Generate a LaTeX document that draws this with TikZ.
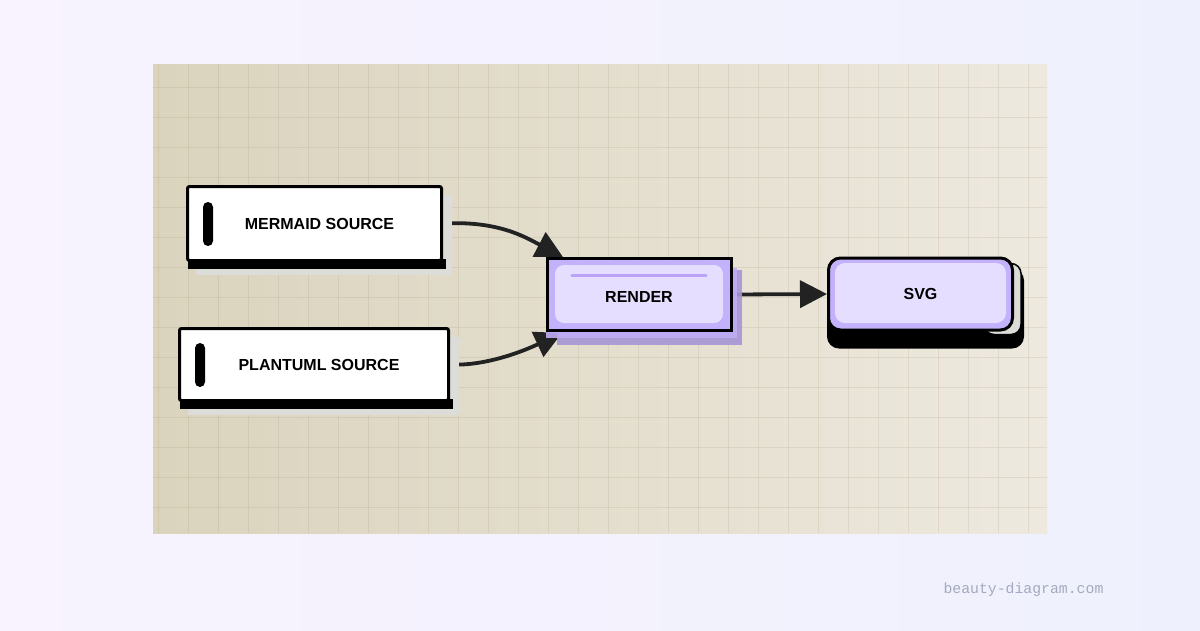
\documentclass[tikz,border=0pt]{standalone}
\usepackage{fontspec}
\setmainfont{Liberation Sans}
\setmonofont{Liberation Mono}
\usetikzlibrary{positioning,arrows.meta,calc}

\pgfdeclarelayer{fundo}
\pgfdeclarelayer{ligacoes}
\pgfdeclarelayer{sombras}
\pgfsetlayers{fundo,ligacoes,sombras,main}

\definecolor{ceuA}{HTML}{F8F3FE}
\definecolor{ceuB}{HTML}{EEF1FD}
\definecolor{papelA}{HTML}{DAD3BD}
\definecolor{papelB}{HTML}{EEE9DF}
\definecolor{grade}{HTML}{8C7B50}
\definecolor{lilas}{HTML}{C4B1FB}
\definecolor{lilasclaro}{HTML}{E5DEFF}
\definecolor{lilasfio}{HTML}{BBA3F8}
\definecolor{lilassombra}{HTML}{C0ACF6}
\definecolor{lilasescuro}{HTML}{A596D4}
\definecolor{cinzasombra}{HTML}{DCDCD8}
\definecolor{tinta}{HTML}{222222}
\definecolor{marca}{HTML}{A3AABF}

\begin{document}
\begin{tikzpicture}[x=1pt,y=-1pt,
    fonte/.style={font=\fontsize{16}{19}\selectfont\bfseries},
    caixa/.style={draw=black, line width=3pt, fill=white, rounded corners=2pt, fonte},
    barra/.style={fill=black, rounded corners=5pt, minimum width=10pt, minimum height=44pt, inner sep=0pt},
    roxo/.style={draw=black, line width=3pt, fill=lilas, minimum width=184pt, minimum height=72pt, inner sep=0pt},
    roxoint/.style={fill=lilasclaro, rounded corners=9pt, inner sep=0pt, fonte},
    seta/.style={draw=tinta, line width=3.8pt, -{Triangle[length=27pt,width=27pt]}},
]
    \useasboundingbox (0,0) rectangle (1200,630);

    % Fundo e papel quadriculado
    \begin{pgfonlayer}{fundo}
        \shade[left color=ceuA, right color=ceuB] (0,0) rectangle (1200,630);
        \shade[left color=papelA, right color=papelB] (153,64) rectangle (1047,533);
        \foreach \x in {158,188,...,1046}
            \draw[grade, opacity=0.13, line width=1pt] (\x,64) -- (\x,533);
        \foreach \y in {87,117,...,533}
            \draw[grade, opacity=0.13, line width=1pt] (153,\y) -- (1047,\y);
    \end{pgfonlayer}

    % Fontes
    \node[caixa, minimum width=254pt, minimum height=74pt] (mermaid) at (314.5,223.5) {\hspace*{10pt}MERMAID SOURCE};
    \node[barra] (mermaidbar) at (208,224) {};
    \node[caixa, minimum width=269pt, minimum height=72pt] (plantuml) at (314,364.5) {\hspace*{10pt}PLANTUML SOURCE};
    \node[barra] (plantumlbar) at (200,365) {};

    % Render
    \node[roxo] (render) at (639.5,294.5) {};
    \node[roxoint, minimum width=168pt, minimum height=58pt, text height=17pt, text depth=0pt] (renderin) at (639,294) {RENDER};
    \draw[lilasfio, line width=3pt, line cap=round]
        ($(renderin.north west)+(17,11)$) -- ($(renderin.north east)+(-17,11)$);

    % Saida
    \node[roxo, rounded corners=12pt] (svg) at (920.5,294) {};
    \node[roxoint, minimum width=171pt, minimum height=60pt, rounded corners=10pt, text height=13pt, text depth=0pt] (svgin) at (920.5,293) {SVG};

    % Sombras
    \begin{pgfonlayer}{sombras}
        \fill[cinzasombra] ($(mermaid.north west)+(10,10)$) rectangle ($(mermaid.south east)+(9,13)$);
        \fill[black] ($(mermaid.south west)+(2,-3)$) rectangle ($(mermaid.south east)+(3,7)$);
        \fill[cinzasombra] ($(plantuml.north west)+(10,10)$) rectangle ($(plantuml.south east)+(9,13)$);
        \fill[black] ($(plantuml.south west)+(2,-3)$) rectangle ($(plantuml.south east)+(3,7)$);
        \fill[lilasescuro, opacity=0.9] ($(render.north west)+(11,13)$) rectangle ($(render.south east)+(9,13)$);
        \fill[lilassombra, opacity=0.9] ($(render.north west)+(0,11)$) rectangle ($(render.south east)+(4,6)$);
        \fill[black, rounded corners=12pt] ($(svg.north west)+(0,12)$) rectangle ($(svg.south east)+(10,17)$);
        \filldraw[fill=cinzasombra, draw=black, line width=1.5pt, rounded corners=10pt]
            ($(svg.north east)+(-30,7)$) rectangle ($(svg.south east)+(7,3)$);
    \end{pgfonlayer}

    % Ligacoes
    \coordinate (alvo1) at ($(render.north west)+(17,0)$);
    \coordinate (alvo2) at ($(render.south west)+(16,1)$);
    \begin{pgfonlayer}{ligacoes}
        \draw[seta] (mermaid.east) .. controls +(55,-3) and +(-38,-20) .. (alvo1);
        \draw[seta] (plantuml.east) .. controls +(40,2) and +(-30,14) .. (alvo2);
        \draw[seta] (render.east) -- (svg.west);
    \end{pgfonlayer}

    % Marca
    \node[font=\ttfamily\fontsize{14.8}{17}\selectfont, text=marca, anchor=west] (marca) at (940,589.5) {beauty-diagram.com};
\end{tikzpicture}
\end{document}
